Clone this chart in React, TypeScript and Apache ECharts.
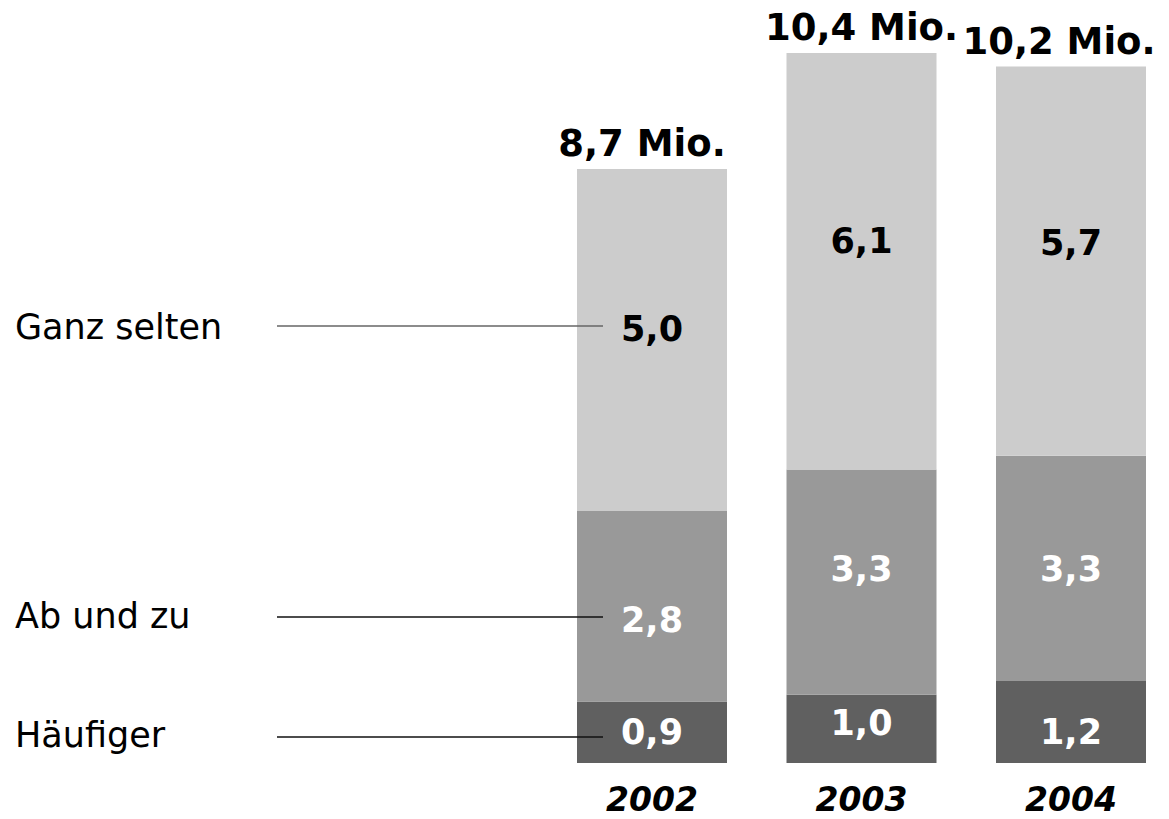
import React, { useEffect, useRef } from "react";
import * as echarts from "echarts";

const years = ["2002", "2003", "2004"];
const haeufiger = [0.9, 1.0, 1.2];
const abUndZu = [2.8, 3.3, 3.3];
const ganzSelten = [5.0, 6.1, 5.7];
const legendNames = ["Ganz selten", "Ab und zu", "Häufiger"];

// vertical nudges of the in-bar labels (styling only)
const nudgeSelten = [-11, -20, -18];
const nudgeAb = [14, -13, 1];
const nudgeH = [0, -6, 10];
const nudgeTop = [-10, 0, -12];

const fmt = (v: number) => v.toFixed(1).replace(".", ",");
const FONT = "DejaVu Sans";

export default function App() {
  const ref = useRef<HTMLDivElement>(null);
  useEffect(() => {
    if (!ref.current) return;
    const chart = echarts.init(ref.current, null, { renderer: "svg" });
    const totals = years.map((_, i) => haeufiger[i] + abUndZu[i] + ganzSelten[i]);
    const mk = (vals: number[], nudge: number[], color: string) =>
      vals.map((v, i) => ({
        value: v,
        label: { offset: [0, nudge[i]], color },
      }));
    const valueLabel = {
      show: true,
      position: "inside",
      fontFamily: FONT,
      fontWeight: "bold",
      fontSize: 35,
      formatter: (p: any) => fmt(p.value),
    };
    const base = { type: "bar", stack: "s", barWidth: 150, clip: false };
    chart.setOption({
      animation: false,
      grid: { left: 652, width: 419, top: 12, height: 751 },
      xAxis: {
        type: "category",
        data: years,
        boundaryGap: false,
        axisLine: { show: false },
        axisTick: { show: false },
        axisLabel: {
          margin: 20,
          fontFamily: FONT,
          fontWeight: "bold",
          fontStyle: "italic",
          fontSize: 33,
          color: "#000",
        },
      },
      yAxis: { type: "value", min: 0, max: 11, show: false, splitLine: { show: false } },
      series: [
        {
          ...base,
          name: legendNames[2],
          itemStyle: { color: "#606060" },
          label: valueLabel,
          data: mk(haeufiger, nudgeH, "#fff"),
        },
        {
          ...base,
          name: legendNames[1],
          itemStyle: { color: "#999999" },
          label: valueLabel,
          data: mk(abUndZu, nudgeAb, "#fff"),
        },
        {
          ...base,
          name: legendNames[0],
          itemStyle: { color: "#cccccc" },
          label: valueLabel,
          data: mk(ganzSelten, nudgeSelten, "#000"),
        },
        {
          ...base,
          silent: true,
          itemStyle: { color: "transparent" },
          data: totals.map((t, i) => ({
            value: 0,
            label: {
              show: true,
              position: "top",
              distance: 7,
              offset: [nudgeTop[i], 0],
              fontFamily: FONT,
              fontWeight: "bold",
              fontSize: 37,
              color: "#000",
              formatter: () => fmt(t) + " Mio.",
            },
          })),
        },
      ],
      graphic: [
        { type: "text", left: 15, top: 309, z: 100, style: { text: legendNames[0], fontFamily: FONT, fontSize: 35, fill: "#000" } },
        { type: "text", left: 15, top: 598, z: 100, style: { text: legendNames[1], fontFamily: FONT, fontSize: 35, fill: "#000" } },
        { type: "text", left: 15, top: 717, z: 100, style: { text: legendNames[2], fontFamily: FONT, fontSize: 35, fill: "#000" } },
        { type: "line", z: 100, shape: { x1: 277, y1: 326, x2: 603, y2: 326 }, style: { stroke: "#666", lineWidth: 1.5 } },
        { type: "line", z: 100, shape: { x1: 277, y1: 617, x2: 603, y2: 617 }, style: { stroke: "#111", lineWidth: 1.5 } },
        { type: "line", z: 100, shape: { x1: 277, y1: 737, x2: 603, y2: 737 }, style: { stroke: "#111", lineWidth: 1.5 } },
      ],
    });
    return () => chart.dispose();
  }, []);
  return (
    <div
      ref={ref}
      style={{ position: "absolute", left: 0, top: 0, width: 1169, height: 819, background: "#fff" }}
    />
  );
}
